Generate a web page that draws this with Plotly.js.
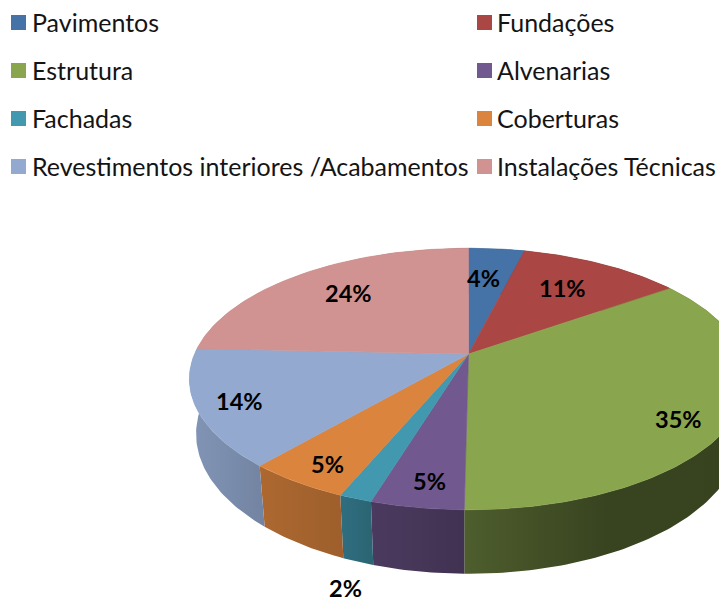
<!DOCTYPE html>
<html>
<head>
<meta charset="utf-8">
<script src="https://cdn.plot.ly/plotly-3.0.1.min.js"></script>
<style>html,body{margin:0;padding:0;background:#fff;overflow:hidden}#chart{width:719px;height:602px}</style>
</head>
<body>
<div id="chart"></div>
<script>
const categories = ['Pavimentos','Fundações','Estrutura','Alvenarias','Fachadas','Coberturas','Revestimentos interiores /Acabamentos','Instalações Técnicas'];
const values = [3.9, 11.3, 35.0, 4.5, 1.6, 5.0, 14.4, 24.3];
const colors = ['#4572a7','#aa4643','#89a54e','#71588f','#4198af','#db843d','#93a9cf','#d19392'];

// where the percentage labels sit, in page pixels
const labelX = [483, 562, 678, 429, 345, 327, 239, 348];
const labelY = [278, 288, 419, 481, 588, 464, 401, 293];

// perspective of the tilted disc
const CX = 468.5, CY = 354, R = 274, H = 126, K = 0.191, DEPTH_SCALE = 0.976;
const RIM_FRONT = 509, WALL_FRONT = 573, WALL_STRETCH = 1.07;

function topPoint(t) {
  const s = 1 / (1 + K * Math.cos(t));
  return [CX + R * Math.sin(t) * s, CY - H * Math.cos(t) * s];
}
function bottomPoint(t) {
  const p = topPoint(t);
  return [CX + (p[0] - CX) * DEPTH_SCALE, WALL_FRONT + (p[1] - RIM_FRONT) * WALL_STRETCH];
}
function shade(hex, f) {
  const n = parseInt(hex.slice(1), 16);
  return 'rgb(' + [(n >> 16) & 255, (n >> 8) & 255, n & 255].map(c => Math.round(c * f)).join(',') + ')';
}
// wall brightness falls from left to right
function wallFactor(x) {
  const xs = [190, 267, 345, 372, 466, 600, 760];
  const fs = [0.88, 0.78, 0.72, 0.66, 0.57, 0.41, 0.40];
  for (let i = 1; i < xs.length; i++) {
    if (x <= xs[i]) return fs[i-1] + (fs[i]-fs[i-1]) * (x-xs[i-1]) / (xs[i]-xs[i-1]);
  }
  return fs[fs.length-1];
}

const total = values.reduce((a, b) => a + b, 0);
const walls = [], tops = [];
let cum = 0;
values.forEach((v, i) => {
  const a = cum / total * 2 * Math.PI;
  cum += v;
  const b = cum / total * 2 * Math.PI;
  const steps = Math.max(4, Math.ceil((b - a) * 60));
  const angles = [];
  for (let j = 0; j <= steps; j++) angles.push(a + (b - a) * j / steps);

  const up = angles.map(topPoint), low = angles.map(bottomPoint).reverse();
  const wx = up.map(p => p[0]).concat(low.map(p => p[0]));
  const wy = up.map(p => p[1]).concat(low.map(p => p[1]));
  wx.push(wx[0]); wy.push(wy[0]);
  const xmin = Math.min(...wx), xmax = Math.max(...wx);
  const stops = [0, 0.25, 0.5, 0.75, 1];
  walls.push({
    type: 'scatter', mode: 'lines', x: wx, y: wy, fill: 'toself', hoverinfo: 'skip',
    line: {width: 0, color: 'rgba(0,0,0,0)'},
    fillgradient: {type: 'horizontal',
      colorscale: stops.map(s => [s, shade(colors[i], wallFactor(xmin + (xmax - xmin) * s))])},
    showlegend: false
  });

  const tx = [CX].concat(up.map(p => p[0]), [CX]);
  const ty = [CY].concat(up.map(p => p[1]), [CY]);
  tops.push({
    type: 'scatter', mode: 'lines', x: tx, y: ty, fill: 'toself', fillcolor: colors[i],
    line: {width: 0.6, color: colors[i]}, name: categories[i], hoverinfo: 'name', showlegend: false
  });
});

// legend: two columns, four rows
const legX = categories.map((c, i) => i % 2 ? 484.5 : 18.5);
const legY = categories.map((c, i) => 22.5 + 48 * Math.floor(i / 2));
const legendMarks = {
  type: 'scatter', mode: 'markers', x: legX, y: legY, hoverinfo: 'skip', showlegend: false,
  marker: {symbol: 'square', size: 15, color: colors, line: {width: 0}}
};

const legendText = categories.map((c, i) => ({
  x: i % 2 ? 498 : 33, y: legY[i], text: c, showarrow: false, xanchor: 'left', yanchor: 'middle',
  xshift: -3, yshift: 1, font: {family: 'Lato', size: 25, color: '#141414'}
}));
const pctText = values.map((v, i) => ({
  x: labelX[i], y: labelY[i], text: '<b>' + Math.round(v) + '%</b>', showarrow: false,
  xanchor: 'center', yanchor: 'middle', font: {family: 'Lato', size: 23.5, color: '#000'}
}));

Plotly.newPlot('chart', walls.concat(tops, [legendMarks]), {
  width: 719, height: 602,
  margin: {l: 0, r: 0, t: 0, b: 0},
  paper_bgcolor: '#fff', plot_bgcolor: '#fff',
  showlegend: false,
  xaxis: {range: [0, 719], visible: false, fixedrange: true},
  yaxis: {range: [602, 0], visible: false, fixedrange: true},
  annotations: legendText.concat(pctText)
}, {displayModeBar: false, staticPlot: true});
</script>
</body>
</html>
